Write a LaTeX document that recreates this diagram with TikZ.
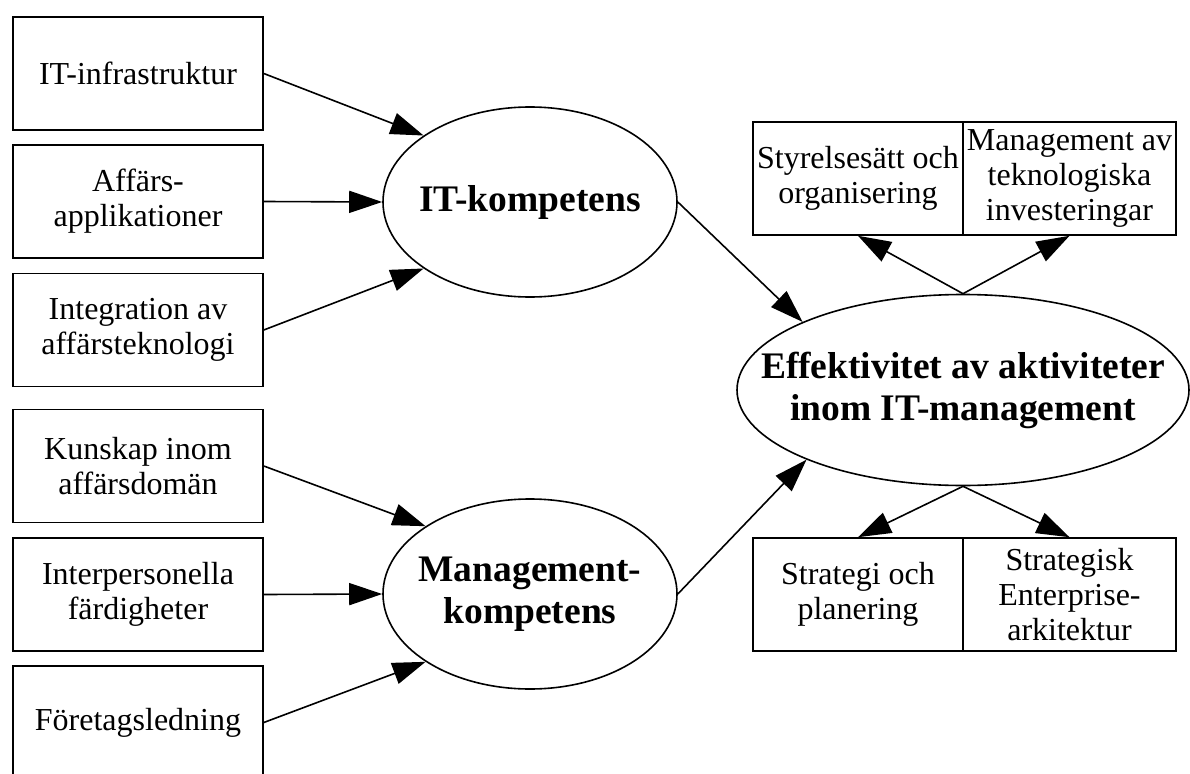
\documentclass[tikz,border=0pt]{standalone}
\usepackage{fontspec}
\setmainfont{Liberation Serif}
\usetikzlibrary{arrows.meta,shapes.geometric}
\begin{document}
\begin{tikzpicture}[x=1pt,y=-1pt,
  box/.style={draw, line width=1.6pt, minimum width=250pt, minimum height=113pt,
    inner sep=0pt, align=center, font=\fontsize{32}{35}\selectfont},
  cell/.style={draw, line width=1.6pt, minimum height=113pt, inner sep=0pt,
    align=center, font=\fontsize{32}{35}\selectfont},
  oval/.style={draw, ellipse, line width=1.6pt, inner sep=0pt},
  ovaltext/.style={inner sep=0pt, align=center, font=\fontsize{37.5}{42}\selectfont\bfseries},
  link/.style={line width=1.6pt, -{Triangle[length=33pt,width=22pt]}}
]
\useasboundingbox (0,0) rectangle (1190,773);
\clip (0,0) rectangle (1190,773);

% input factors on the left
\node[box] (b1) at (138,73.5)  {IT-infrastruktur};
\node[box] (b2) at (138,201.5) {Affärs-\\applikationer};
\node[box] (b3) at (138,330)   {Integration av\\affärsteknologi};
\node[box] (b4) at (138,466)   {Kunskap inom\\affärsdomän};
\node[box] (b5) at (138,594.5) {Interpersonella\\färdigheter};
\node[box] (b6) at (138,722.5) {Företagsledning};

% competence ellipses
\node[oval, minimum width=294pt, minimum height=190pt] (itk) at (530,202) {};
\node[ovaltext] at (itk.center) {IT-kompetens};
\node[oval, minimum width=294pt, minimum height=190pt] (mgk) at (530,594) {};
\node[ovaltext] at (mgk.center) {Management-\\kompetens};

% outcome ellipse
\node[oval, minimum width=452pt, minimum height=191pt] (eff) at (963,390) {};
\node[ovaltext] at (eff.center) {Effektivitet av aktiviteter\\inom IT-management};

% activity areas
\node[cell, minimum width=210pt] (s1) at (858,178.5)   {Styrelsesätt och\\organisering};
\node[cell, minimum width=213pt] (s2) at (1069.5,178.5) {Management av\\teknologiska\\investeringar};
\node[cell, minimum width=210pt] (s3) at (858,594.5)   {Strategi och\\planering};
\node[cell, minimum width=213pt] (s4) at (1069.5,594.5) {Strategisk\\Enterprise-\\arkitektur};

% connectors
\draw[link] (b1.east) -- (itk.148);
\draw[link] (b2.east) -- (itk.west);
\draw[link] (b3.east) -- (itk.212);
\draw[link] (b4.east) -- (mgk.147);
\draw[link] (b5.east) -- (mgk.west);
\draw[link] (b6.east) -- (mgk.213);
\draw[link] (itk.east) -- (eff.157);
\draw[link] (mgk.east) -- (eff.204);
\draw[link] (eff.north) -- (s1.south);
\draw[link] (eff.north) -- (s2.south);
\draw[link] (eff.south) -- (s3.north);
\draw[link] (eff.south) -- (s4.north);
\end{tikzpicture}
\end{document}
